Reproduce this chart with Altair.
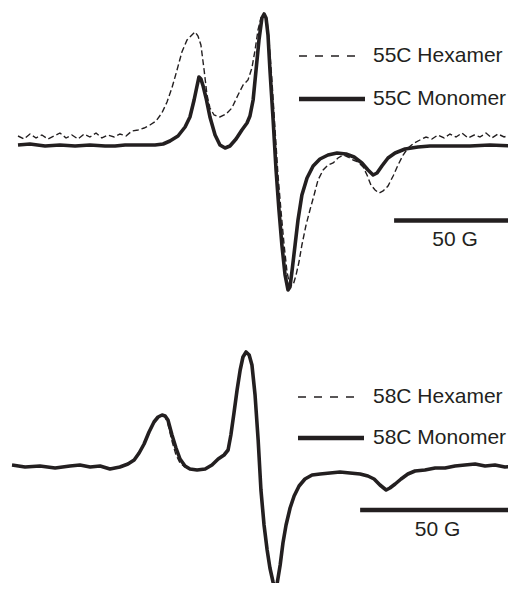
import altair as alt
import pandas as pd

INK = "#231f20"
FONT = "Liberation Sans"

# ---------------- top panel (55C) ----------------
top_mono_field = [0, 4.9, 11.1, 17.2, 23.4, 29.5, 35.7, 39.8, 43.9, 48.0,
                  52.1, 56.2, 59.5, 62.3, 65.6, 68.5, 70.5, 72.2, 73.4, 74.2,
                  75.0, 75.9, 77.1, 78.7, 80.8, 82.8, 84.9, 86.9, 89.4, 91.8,
                  93.9, 95.1, 96.4, 97.6, 98.8, 100.0, 100.9, 101.7, 102.5, 103.3,
                  104.6, 105.8, 107.0, 108.2, 109.5, 110.7, 111.5, 112.3, 113.6, 114.8,
                  116.4, 118.5, 121.0, 123.8, 127.1, 130.8, 134.5, 137.8, 141.0, 143.5,
                  145.6, 147.2, 149.2, 151.7, 154.6, 158.7, 164.0, 168.9, 177.1, 185.3,
                  193.5, 204.2]
top_mono_int = [0, 1, -1, 0, -1, 0, -1, -1, 0, 0,
                0, 0, 1, 4, 9, 18, 28, 45, 59, 68,
                66, 59, 47, 28, 10, 0, -3, -1, 6, 15,
                22, 29, 45, 75, 105, 127, 131, 127, 110, 75,
                25, -25, -65, -100, -130, -145, -142, -127, -100, -75,
                -50, -33, -21, -14, -10, -8, -9, -12, -18, -25,
                -30, -28, -21, -13, -8, -4, -2, -1, -1, -1,
                0, -1]

top_hex_field = [0, 2.5, 4.9, 7.4, 9.8, 12.3, 14.8, 17.2, 19.7, 22.1,
                 24.6, 27.1, 29.5, 32.0, 34.4, 36.9, 39.4, 41.8, 44.3, 46.7,
                 49.2, 51.7, 54.1, 56.6, 59.0, 61.1, 63.1, 65.2, 67.2, 69.3,
                 71.3, 72.6, 73.8, 75.0, 76.3, 77.5, 78.7, 80.4, 82.8, 85.3,
                 87.7, 90.2, 92.3, 94.3, 95.9, 97.2, 98.4, 99.6, 100.9, 102.1,
                 102.9, 104.1, 105.4, 106.6, 107.8, 109.1, 110.3, 111.5, 112.8, 114.0,
                 115.2, 116.4, 118.1, 119.7, 121.4, 123.0, 125.1, 127.1, 129.2, 131.2,
                 133.3, 135.3, 137.4, 139.4, 141.5, 143.1, 144.7, 146.4, 148.0, 149.7,
                 151.7, 153.8, 155.8, 157.9, 159.9, 162.4, 164.8, 167.3, 169.7, 172.2,
                 174.7, 177.1, 179.6, 182.0, 184.5, 187.0, 189.4, 191.9, 194.3, 196.8,
                 199.3, 201.7, 204.2]
top_hex_int = [9, 6, 11, 7, 10, 6, 9, 12, 7, 10,
               6, 11, 8, 12, 7, 10, 8, 11, 9, 14,
               15, 17, 20, 24, 32, 43, 57, 75, 93, 105,
               110, 113, 109, 100, 75, 50, 37, 30, 28, 31,
               37, 50, 60, 65, 77, 95, 115, 127, 131, 125,
               105, 65, 15, -30, -65, -100, -127, -141, -140, -130,
               -117, -100, -80, -65, -50, -35, -25, -20, -18, -13,
               -10, -12, -15, -17, -22, -30, -40, -45, -48, -46,
               -41, -31, -20, -10, -3, 2, 5, 8, 6, 10,
               7, 11, 8, 12, 7, 10, 8, 12, 7, 11,
               8, 10, 9]

# ---------------- bottom panel (58C) ----------------
bot_field = [0, 4.2, 9.0, 13.9, 18.7, 21.9, 25.2, 28.4, 31.6, 34.8,
             37.4, 39.4, 41.0, 42.6, 44.2, 45.8, 47.1, 48.4, 49.4, 50.3,
             51.6, 52.9, 54.2, 55.8, 57.4, 59.7, 62.3, 64.5, 66.5, 68.4,
             69.7, 70.6, 71.6, 72.6, 73.6, 74.5, 75.5, 76.5, 77.4, 78.4,
             79.4, 80.3, 81.3, 82.3, 83.2, 84.2, 84.8, 85.5, 86.5, 87.4,
             88.4, 89.7, 91.0, 92.6, 94.5, 96.8, 99.4, 102.6, 105.8, 109.0,
             112.3, 114.8, 116.8, 118.7, 120.7, 121.9, 123.6, 125.5, 127.7, 130.0,
             133.2, 136.5, 139.7, 142.9, 146.1, 149.4, 152.6, 155.8, 159.0, 162.3]
bot_mono_int = [2, 0, 1, -1, 1, 2, 0, 1, -2, 0,
                3, 7, 14, 23, 35, 45, 50, 52, 51, 47,
                32, 19, 8, 1, -2, -3, -2, 2, 8, 12,
                17, 32, 54, 77, 97, 110, 115, 112, 102, 72,
                27, -23, -58, -83, -101, -115, -121, -117, -98, -76,
                -58, -41, -29, -19, -12, -8, -7, -6, -5, -6,
                -7, -9, -12, -18, -23, -21, -17, -12, -7, -4,
                -3, -1, -1, 1, 2, 3, 1, 2, 0, 1]
bot_hex_int = [2, 0, 1, -1, 1, 2, 0, 1, -2, 0,
               3, 7, 14, 23, 35, 45, 50, 52, 50, 43,
               26, 12, 4, 0, -2, -3, -2, 2, 8, 12,
               17, 32, 54, 77, 97, 110, 115, 112, 102, 72,
               27, -23, -58, -83, -101, -115, -121, -117, -98, -76,
               -58, -41, -29, -19, -12, -8, -7, -6, -5, -6,
               -7, -9, -12, -18, -23, -21, -17, -12, -7, -4,
               -3, -1, -1, 1, 2, 3, 1, 2, 0, 1]

scale_bar_gauss = 50


def panel(mono_f, mono_i, hex_f, hex_i, xdom, ydom, h, bar_start, bar_y,
          label_y, temp, leg):
    xs = alt.Scale(domain=xdom, nice=False, zero=False)
    ys = alt.Scale(domain=ydom, nice=False, zero=False)
    X = alt.X("G:Q", scale=xs, axis=None)
    Y = alt.Y("I:Q", scale=ys, axis=None)
    hex_df = pd.DataFrame({"G": hex_f, "I": hex_i})
    mono_df = pd.DataFrame({"G": mono_f, "I": mono_i})
    hexl = alt.Chart(hex_df).mark_line(color=INK, strokeWidth=1.4, clip=True,
                                       strokeDash=[6, 3]).encode(x=X, y=Y)
    monol = alt.Chart(mono_df).mark_line(color=INK, strokeWidth=3.6, clip=True,
                                         strokeJoin="round").encode(x=X, y=Y)
    bar_df = pd.DataFrame({"G": [bar_start], "G2": [bar_start + scale_bar_gauss],
                           "I": [bar_y], "Gm": [bar_start + scale_bar_gauss / 2],
                           "Il": [label_y], "t": [f"{scale_bar_gauss} G"]})
    bar = alt.Chart(bar_df).mark_rule(color=INK, strokeWidth=4.5, clip=True).encode(
        x=X, x2="G2:Q", y=Y)
    bar_txt = alt.Chart(bar_df).mark_text(font=FONT, fontSize=21, color=INK,
                                          baseline="middle", align="center").encode(
        x=alt.X("Gm:Q", scale=xs, axis=None),
        y=alt.Y("Il:Q", scale=ys, axis=None), text="t:N")
    one = alt.Data(values=[{}])
    lx, ly1, ly2, tx = leg
    leg_dash = alt.Chart(one).mark_rule(color=INK, strokeWidth=1.6,
                                        strokeDash=[8, 8]).encode(
        x=alt.value(lx), x2=alt.value(lx + 56), y=alt.value(ly1))
    leg_solid = alt.Chart(one).mark_rule(color=INK, strokeWidth=4.5).encode(
        x=alt.value(lx), x2=alt.value(lx + 66), y=alt.value(ly2))
    t1 = alt.Chart(one).mark_text(font=FONT, fontSize=21, color=INK, align="left",
                                  baseline="middle").encode(
        x=alt.value(tx), y=alt.value(ly1), text=alt.value(f"{temp} Hexamer"))
    t2 = alt.Chart(one).mark_text(font=FONT, fontSize=21, color=INK, align="left",
                                  baseline="middle").encode(
        x=alt.value(tx), y=alt.value(ly2), text=alt.value(f"{temp} Monomer"))
    return alt.layer(hexl, monol, bar, bar_txt, leg_dash, leg_solid, t1, t2).properties(
        width=500, height=h)


top = panel(top_mono_field, top_mono_int, top_hex_field, top_hex_int,
            [-4.1, 200.9], [-173, 137], 310, 154.2, -75.5, -95, "55C",
            (291, 48, 91, 365))
bottom = panel(bot_field, bot_mono_int, bot_field, bot_hex_int,
               [-1.3, 160.0], [-116, 149], 265, 112.3, -43, -63, "58C",
               (290, 79, 120, 365))

chart = alt.vconcat(top, bottom, spacing=0).properties(padding=0).configure_view(
    stroke=None)

chart.save("out.html", embed_options={"renderer": "svg", "actions": False})
